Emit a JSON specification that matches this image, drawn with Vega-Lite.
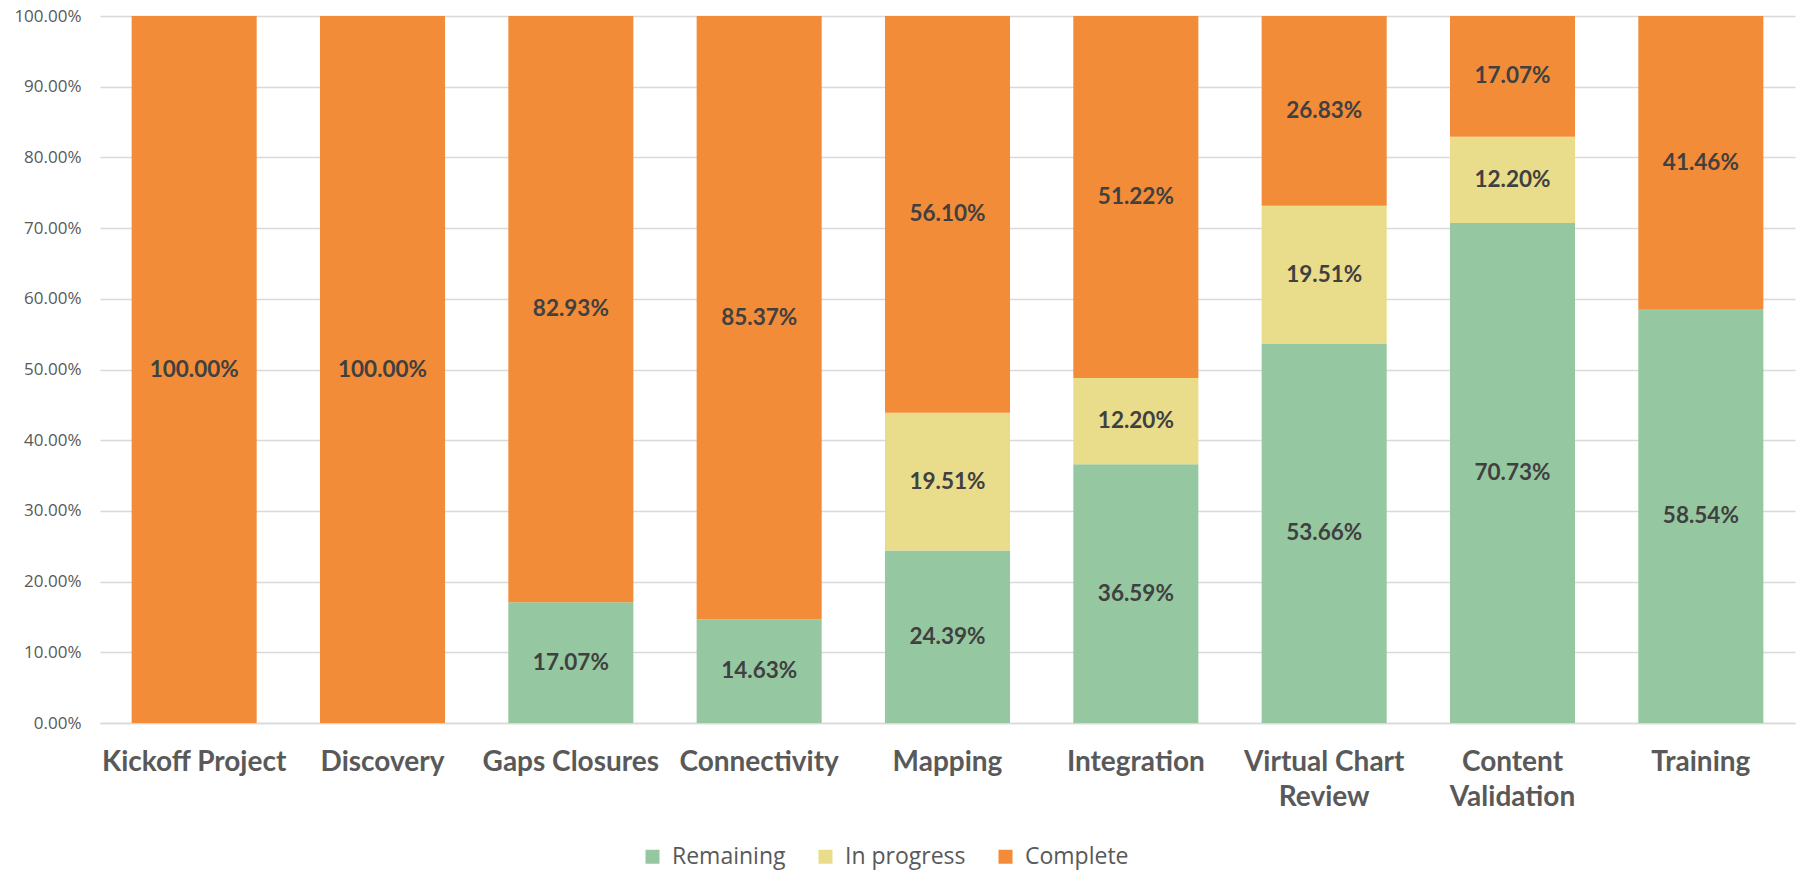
{
  "$schema": "https://vega.github.io/schema/vega-lite/v6.json",
  "autosize": {"type": "none"},
  "width": 1695,
  "height": 707,
  "padding": {"left": 100, "top": 16, "right": 2, "bottom": 151},
  "background": "white",
  "config": {"view": {"stroke": null}},
  "data": {"values": [
    {"task": "Kickoff Project", "status": "Remaining", "value": 0},
    {"task": "Kickoff Project", "status": "In progress", "value": 0},
    {"task": "Kickoff Project", "status": "Complete", "value": 1.0},
    {"task": "Discovery", "status": "Remaining", "value": 0},
    {"task": "Discovery", "status": "In progress", "value": 0},
    {"task": "Discovery", "status": "Complete", "value": 1.0},
    {"task": "Gaps Closures", "status": "Remaining", "value": 0.1707},
    {"task": "Gaps Closures", "status": "In progress", "value": 0},
    {"task": "Gaps Closures", "status": "Complete", "value": 0.8293},
    {"task": "Connectivity", "status": "Remaining", "value": 0.1463},
    {"task": "Connectivity", "status": "In progress", "value": 0},
    {"task": "Connectivity", "status": "Complete", "value": 0.8537},
    {"task": "Mapping", "status": "Remaining", "value": 0.2439},
    {"task": "Mapping", "status": "In progress", "value": 0.1951},
    {"task": "Mapping", "status": "Complete", "value": 0.561},
    {"task": "Integration", "status": "Remaining", "value": 0.3659},
    {"task": "Integration", "status": "In progress", "value": 0.122},
    {"task": "Integration", "status": "Complete", "value": 0.5122},
    {"task": "Virtual Chart Review", "status": "Remaining", "value": 0.5366},
    {"task": "Virtual Chart Review", "status": "In progress", "value": 0.1951},
    {"task": "Virtual Chart Review", "status": "Complete", "value": 0.2683},
    {"task": "Content Validation", "status": "Remaining", "value": 0.7073},
    {"task": "Content Validation", "status": "In progress", "value": 0.122},
    {"task": "Content Validation", "status": "Complete", "value": 0.1707},
    {"task": "Training", "status": "Remaining", "value": 0.5854},
    {"task": "Training", "status": "In progress", "value": 0},
    {"task": "Training", "status": "Complete", "value": 0.4146}
  ]},
  "encoding": {
    "x": {
      "field": "task", "type": "nominal", "sort": null, "title": null,
      "scale": {"paddingInner": 0.336, "paddingOuter": 0.168},
      "axis": {
        "labelAngle": 0, "labelFont": "Lato", "labelFontWeight": "bold", "labelFontSize": 28,
        "labelColor": "#595959", "labelPadding": 25, "ticks": false, "labelLimit": 400,
        "domainColor": "#d9d9d9", "domainWidth": 1.5, "labelLineHeight": 35,
        "labelExpr": "datum.value == 'Virtual Chart Review' ? ['Virtual Chart', 'Review'] : datum.value == 'Content Validation' ? ['Content', 'Validation'] : datum.value"
      }
    },
    "y": {
      "field": "value", "type": "quantitative", "stack": "zero", "title": null,
      "scale": {"domain": [0, 1], "nice": false},
      "axis": {
        "values": [0, 0.1, 0.2, 0.3, 0.4, 0.5, 0.6, 0.7, 0.8, 0.9, 1.0],
        "format": ".2%", "domain": false, "ticks": false, "labelPadding": 19,
        "labelFont": "Open Sans", "labelFontSize": 17, "labelColor": "#595959",
        "gridColor": "#d9d9d9", "gridWidth": 1.5
      }
    },
    "order": {"field": "status", "sort": "descending"}
  },
  "layer": [
    {
      "mark": {"type": "bar"},
      "encoding": {
        "color": {
          "field": "status", "type": "nominal", "title": null,
          "sort": ["Remaining", "In progress", "Complete"],
          "scale": {"domain": ["Remaining", "In progress", "Complete"], "range": ["#95C8A1", "#E9DC8A", "#F38C38"]},
          "legend": {
            "orient": "none", "legendX": 541, "legendY": 829, "direction": "horizontal",
            "symbolType": "square", "symbolSize": 196, "symbolStrokeWidth": 0,
            "labelFont": "Open Sans", "labelFontSize": 23, "labelColor": "#595959",
            "labelOffset": 8, "columnPadding": 28
          }
        }
      }
    },
    {
      "transform": [{"filter": "datum.value > 0"}],
      "mark": {"type": "text", "font": "Lato", "fontWeight": "bold", "fontSize": 22.5, "color": "#404040", "baseline": "middle"},
      "encoding": {
        "y": {"field": "value", "type": "quantitative", "stack": "zero", "bandPosition": 0.5},
        "text": {"field": "value", "type": "quantitative", "format": ".2%"}
      }
    }
  ]
}
